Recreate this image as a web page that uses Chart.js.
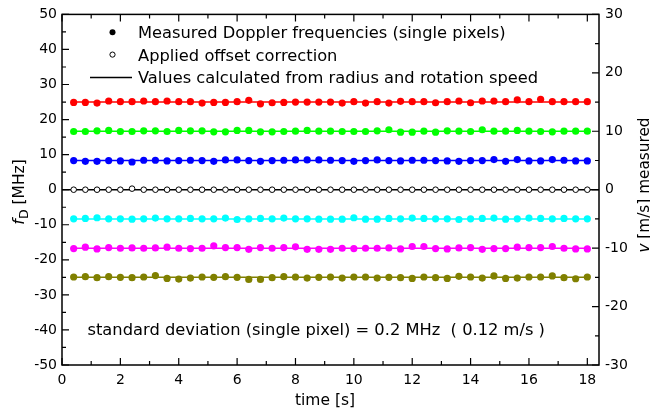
<!DOCTYPE html>
<html><head><meta charset="utf-8">
<script src="https://cdn.jsdelivr.net/npm/chart.js@4/dist/chart.umd.min.js"></script>
<style>html,body{margin:0;padding:0;background:#fff}</style>
</head><body>
<canvas id="c" width="650" height="414"></canvas>
<script>
// ---- data ----
const time = [0.4,0.8,1.2,1.6,2.0,2.4,2.8,3.2,3.6,4.0,4.4,4.8,5.2,5.6,6.0,6.4,6.8,7.2,7.6,8.0,8.4,8.8,9.2,9.6,10.0,10.4,10.8,11.2,11.6,12.0,12.4,12.8,13.2,13.6,14.0,14.4,14.8,15.2,15.6,16.0,16.4,16.8,17.2,17.6,18.0];
const red = [24.9,24.9,24.7,25.3,25.1,25.1,25.3,25.1,25.3,25.1,25.1,24.7,24.9,24.9,25.1,25.5,24.5,24.8,24.9,25.0,25.0,25.0,25.0,24.7,25.1,24.7,25.1,24.7,25.2,25.1,25.1,24.8,25.1,25.3,24.8,25.3,25.3,25.1,25.6,25.1,25.8,25.1,25.1,25.1,25.1];
const green = [16.6,16.6,16.8,16.9,16.6,16.6,16.8,16.8,16.6,16.9,16.8,16.8,16.5,16.5,16.9,16.9,16.5,16.5,16.6,16.7,16.9,16.7,16.7,16.6,16.6,16.6,16.8,17.1,16.4,16.4,16.7,16.4,16.8,16.7,16.6,17.1,16.7,16.7,16.9,16.7,16.6,16.5,16.7,16.7,16.7];
const blue = [8.3,8.1,8.1,8.3,8.2,7.9,8.4,8.4,8.2,8.3,8.4,8.3,8.1,8.5,8.5,8.3,8.1,8.3,8.4,8.5,8.5,8.5,8.4,8.3,8.1,8.3,8.5,8.3,8.2,8.4,8.4,8.3,8.2,8.1,8.3,8.3,8.6,8.1,8.6,8.2,8.2,8.6,8.4,8.2,8.2];
const offset = [0,0,0,0,0,0.3,0,0,0,0,0,0,0,0,0,0,0,0,0,0,0,0,0,0,0,0,0,0,0,0,0,0,0,0,0,0,0,0,0,0,0,0,0,0,0];
const cyan = [-8.3,-8.2,-8.0,-8.3,-8.3,-8.4,-8.3,-8.1,-8.3,-8.3,-8.2,-8.3,-8.3,-8.1,-8.5,-8.3,-8.2,-8.3,-8.1,-8.3,-8.3,-8.4,-8.4,-8.4,-8.0,-8.4,-8.4,-8.2,-8.3,-8.1,-8.2,-8.3,-8.3,-8.5,-8.3,-8.2,-8.1,-8.4,-8.3,-8.1,-8.2,-8.3,-8.2,-8.3,-8.3];
const magenta = [-16.8,-16.4,-16.9,-16.5,-16.7,-16.6,-16.7,-16.6,-16.4,-16.7,-16.8,-16.7,-16.0,-16.5,-16.5,-17.0,-16.5,-16.7,-16.5,-16.3,-17.0,-17.0,-17.0,-16.7,-16.8,-16.7,-16.7,-16.6,-16.9,-16.2,-16.2,-16.8,-16.9,-16.6,-16.5,-17.0,-16.8,-16.8,-16.4,-16.5,-16.5,-16.2,-16.7,-16.9,-16.9];
const olive = [-24.9,-24.8,-25.1,-24.8,-25.0,-25.1,-24.9,-24.5,-25.3,-25.5,-25.2,-24.9,-25.0,-24.8,-25.0,-25.6,-25.6,-25.1,-24.8,-24.9,-25.2,-25.0,-24.9,-25.2,-24.9,-24.9,-25.2,-25.0,-25.1,-25.3,-24.9,-25.1,-25.3,-24.7,-24.9,-25.2,-24.6,-25.3,-25.2,-24.9,-24.9,-24.6,-25.1,-25.4,-24.9];
const calculated = [25, 16.67, 8.33, 0, -8.33, -16.67, -25];
const calcRange = [0.4, 18.0];
const offsetLineRange = [0, 18.4];
const xTickValues = [0,2,4,6,8,10,12,14,16,18];
const yTickValues = [-50,-40,-30,-20,-10,0,10,20,30,40,50];
const y2TickValues = [-30,-20,-10,0,10,20,30];
const legendLabels = ['Measured Doppler frequencies (single pixels)','Applied offset correction','Values calculated from radius and rotation speed'];
const noteText = 'standard deviation (single pixel) = 0.2 MHz  ( 0.12 m/s )';
const xTitle = 'time [s]';

// ---- build ----
const FONT = "'DejaVu Sans', sans-serif";
const measured = [red, green, blue, offset, cyan, magenta, olive];
const colors = ['#ff0000','#00ff00','#0000ff','#000000','#00ffff','#ff00ff','#808000'];
const datasets = [];
measured.forEach((vals, i) => {
  const isOffset = i === 3;
  datasets.push({
    data: vals.map((v, k) => ({x: time[k], y: v})),
    showLine: false, order: 0,
    pointRadius: isOffset ? 2.8 : 3.6,
    pointBackgroundColor: isOffset ? '#ffffff' : colors[i],
    pointBorderColor: isOffset ? '#000000' : colors[i],
    pointBorderWidth: isOffset ? 1 : 0,
    pointHoverRadius: 0
  });
  const rng = isOffset ? offsetLineRange : calcRange;
  datasets.push({
    data: rng.map(x => ({x, y: calculated[i]})),
    showLine: true, order: 1, pointRadius: 0, pointHoverRadius: 0,
    borderColor: colors[i], borderWidth: 1.5, fill: false
  });
});

function mids(arr){ const m=[]; for(let i=0;i<arr.length-1;i++) m.push((arr[i]+arr[i+1])/2); return m; }

function richText(ctx, parts, px, py, rotate){
  ctx.save(); ctx.translate(px, py); if (rotate) ctx.rotate(-Math.PI/2);
  let total = 0;
  parts.forEach(p => { ctx.font = (p.italic?'italic ':'') + p.size + 'px ' + FONT; p.w = ctx.measureText(p.text).width; total += p.w; });
  let xx = -total/2;
  ctx.textBaseline = 'alphabetic'; ctx.textAlign = 'left'; ctx.fillStyle = '#000';
  parts.forEach(p => { ctx.font = (p.italic?'italic ':'') + p.size + 'px ' + FONT; ctx.fillText(p.text, xx, p.shift || 0); xx += p.w; });
  ctx.restore();
}

const decor = {
  id: 'decor',
  afterDraw(chart){
    const {ctx, chartArea: a, scales} = chart;
    const X = scales.x, Y = scales.y, Y2 = scales.y2;
    ctx.save();
    ctx.strokeStyle = '#000'; ctx.lineWidth = 1.5;
    ctx.strokeRect(a.left, a.top, a.right - a.left, a.bottom - a.top);
    ctx.lineWidth = 1.2;
    ctx.beginPath();
    const vx = (v, len) => { const p = X.getPixelForValue(v); ctx.moveTo(p, a.bottom); ctx.lineTo(p, a.bottom - len); ctx.moveTo(p, a.top); ctx.lineTo(p, a.top + len); };
    xTickValues.forEach(v => vx(v, 7)); mids(xTickValues).forEach(v => vx(v, 4));
    const hl = (v, len) => { const p = Y.getPixelForValue(v); ctx.moveTo(a.left, p); ctx.lineTo(a.left + len, p); };
    yTickValues.forEach(v => hl(v, 7)); mids(yTickValues).forEach(v => hl(v, 4));
    const hr = (v, len) => { const p = Y2.getPixelForValue(v); ctx.moveTo(a.right, p); ctx.lineTo(a.right - len, p); };
    y2TickValues.forEach(v => hr(v, 7)); mids(y2TickValues).forEach(v => hr(v, 4));
    ctx.stroke();

    // legend
    const rows = [32.3, 54.6, 77.4];
    ctx.fillStyle = '#000';
    ctx.beginPath(); ctx.arc(112.5, rows[0], 3, 0, Math.PI*2); ctx.fill();
    ctx.lineWidth = 1; ctx.beginPath(); ctx.arc(112.5, rows[1], 2.6, 0, Math.PI*2); ctx.stroke();
    ctx.lineWidth = 1.5; ctx.beginPath(); ctx.moveTo(90, rows[2]); ctx.lineTo(132, rows[2]); ctx.stroke();
    ctx.font = '16.3px ' + FONT; ctx.textBaseline = 'alphabetic'; ctx.textAlign = 'left';
    legendLabels.forEach((t, i) => ctx.fillText(t, 138, rows[i] + 6));
    ctx.fillText(noteText, 87.5, 335);
    ctx.restore();

    richText(ctx, [{text: xTitle, size: 15.5}], 325, 405, false);
    richText(ctx, [{text:'f', italic:true, size:16}, {text:'D', size:12.5, shift:4}, {text:' [MHz]', size:15.5}], 24, 192, true);
    richText(ctx, [{text:'v', italic:true, size:15.3}, {text:' [m/s] measured', size:15.3}], 649, 185, true);
  }
};

const tickFont = {family: FONT, size: 14};
new Chart(document.getElementById('c'), {
  type: 'scatter',
  data: {datasets},
  options: {
    responsive: false, animation: false, devicePixelRatio: 1,
    layout: {padding: {top: 11, left: 0, right: 0, bottom: 0}},
    plugins: {legend: {display: false}, tooltip: {enabled: false}},
    scales: {
      x: {type: 'linear', position: 'bottom', min: 0, max: 18.4,
          afterBuildTicks(s){ s.ticks = xTickValues.map(v => ({value: v})); },
          ticks: {color: '#000', font: tickFont, padding: 7, maxRotation: 0, autoSkip: false},
          grid: {display: false, drawTicks: false}, border: {display: false},
          afterFit(s){ s.height = 49; }},
      y: {type: 'linear', position: 'left', min: -50, max: 50,
          afterBuildTicks(s){ s.ticks = yTickValues.map(v => ({value: v})); },
          ticks: {color: '#000', font: tickFont, padding: 5, autoSkip: false},
          grid: {display: false, drawTicks: false}, border: {display: false},
          afterFit(s){ s.width = 62; }},
      y2: {type: 'linear', position: 'right', min: -30, max: 30,
          afterBuildTicks(s){ s.ticks = y2TickValues.map(v => ({value: v})); },
          ticks: {color: '#000', font: tickFont, padding: 6, autoSkip: false},
          grid: {display: false, drawTicks: false}, border: {display: false},
          afterFit(s){ s.width = 51; }}
    }
  },
  plugins: [decor]
});
</script>
</body></html>
